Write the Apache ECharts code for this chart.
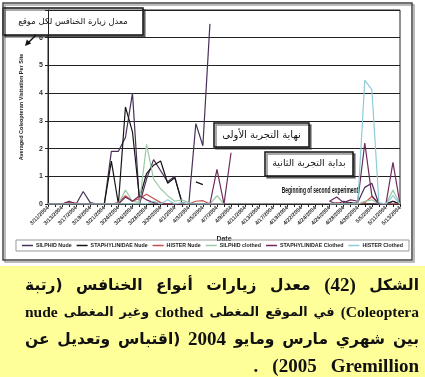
<!DOCTYPE html>
<html>
<head>
<meta charset="utf-8">
<script src="https://cdn.jsdelivr.net/npm/echarts@6/dist/echarts.min.js"></script>
<style>
  html, body { margin: 0; padding: 0; background: #fff; }
  #chart { width: 425px; height: 377px; }
</style>
</head>
<body>
<div id="chart"></div>
<script>
// dates on the category axis (every other one is labelled)
const categories = [
  '3/11/2004', '3/12/2004', '3/13/2004', '3/15/2004', '3/17/2004', '3/18/2004', '3/19/2004', '3/20/2004', '3/21/2004', '3/23/2004',
  '3/24/2004', '3/25/2004', '3/26/2004', '3/27/2004', '3/28/2004', '3/29/2004', '3/30/2004', '3/31/2004', '4/1/2004', '4/2/2004',
  '4/3/2004', '4/4/2004', '4/5/2004', '4/6/2004', '4/7/2004', '4/8/2004', '4/9/2004', '4/10/2004', '4/11/2004', '4/12/2004',
  '4/13/2004', '4/15/2004', '4/17/2004', '4/18/2004', '4/19/2004', '4/21/2004', '4/22/2004', '4/23/2004', '4/24/2004', '4/25/2004',
  '4/26/2004', '4/27/2004', '4/28/2004', '4/29/2004', '4/30/2004', '5/3/2004', '5/5/2004', '5/7/2004', '5/11/2004', '5/12/2004',
  '5/13/2004'
]

const _ = null
const silphidNude = [
  0, 0, 0, 0.05, 0, 0.45, 0.05, 0, 0, 1.9,
  1.9, 2.4, 4.0, 0, 0.9, 1.6, 1.2, 0.8, 1.0, 0.05,
  0, 2.9, 2.1, 6.5, _, _, _, _, _, _,
  _, _, _, _, _, _, _, _, _, _,
  0.1, 0, 0.1, 0, 0.05, 0.6, 0.75, 0, 0, 0.1,
  0
]
const staphNude = [
  0, 0, 0, 0, 0, 0, 0, 0, 0, 1.55,
  0, 3.5, 2.6, 0.2, 1.1, 1.4, 1.55, 0.75, 0.95, 0.1,
  _, 0.8, 0.7, _, _, _, _, _, _, _,
  _, _, _, _, _, _, _, _, _, _,
  0, 0, 0, 0.05, 0, 0, 0, 0, 0, 0.1,
  0
]
const histerNude = [
  0, 0, 0, 0.05, 0.03, 0, 0, 0, 0, 0,
  0.05, 0.3, 0.1, 0.2, 0.35, 0.2, 0.05, 0, 0, 0,
  0, 0.1, 0.12, 0, 0, 0, _, _, _, _,
  _, _, _, _, _, _, _, _, _, _,
  0, 0.05, 0, 0, 0, 0.05, 0.27, 0, 0, 0,
  0
]
const silphidClothed = [
  0, 0, 0, 0, 0, 0, 0, 0, 0, 0,
  0, 0.5, 0.1, 0.05, 2.15, 0.9, 0.55, 0.3, 0.1, 0.15,
  0.05, 0, 0, 0, 0.3, 0, _, _, _, _,
  _, _, _, _, _, _, _, _, _, _,
  0, 0, 0, 0, 0, 0.1, 0.15, 0, 0, 0.5,
  0
]
const staphClothed = [
  0, 0, 0, 0.1, 0, 0, 0, 0, 0, 0,
  0, 0.25, 0.1, 0.3, 0.15, 0.05, 0, 0, 0, 0,
  0, 0, 0, 0, 1.25, 0, 1.85, _, _, _,
  _, _, _, _, _, _, _, _, _, _,
  0.1, 0.25, 0.05, 0.15, 0.1, 2.2, 0.3, 0, 0, 1.5,
  0
]
const histerClothed = [
  0, 0, 0, 0, 0, 0, 0, 0, 0, 0,
  0, 0, 0, 0, 0, 0.1, 0, 0.15, 0, 0.05,
  0, 0, 0, 0, 0, 0, _, _, _, _,
  _, _, _, _, _, _, _, _, _, _,
  0, 0, 0, 0, 0, 4.47, 4.13, 0.05, 0, 0.3,
  0
]

const seriesNames = ['SILPHID Nude', 'STAPHYLINIDAE Nude', 'HISTER Nude', 'SILPHID clothed', 'STAPHYLINIDAE Clothed', 'HISTER Clothed']
const seriesData = [silphidNude, staphNude, histerNude, silphidClothed, staphClothed, histerClothed]
const seriesColors = ['#4a3058', '#151515', '#c0504d', '#9cc9a6', '#6d2a5a', '#8ecbd8']

const yAxisTitle = 'Averaged Coleopteran Visitation Per Site'
const xAxisTitle = 'Date'
const noteAxis = 'معدل زيارة الخنافس لكل موقع'
const noteEnd = 'نهاية التجربة الأولى'
const noteStart = 'بداية التجربة الثانية'
const noteEnglish = 'Beginning of second experiment'

const captionLines = [
  ['الشكل', '(42)', 'معدل', 'زيارات', 'أنواع', 'الخنافس', '(رتبة'],
  ['Coleoptera)', 'في', 'الموقع', 'المغطى', 'clothed', 'وغير', 'المغطى', 'nude'],
  ['بين', 'شهري', 'مارس', 'ومايو', '2004', '(اقتباس', 'وتعديل', 'عن'],
  ['Gremillion', '2005)', '.']
]

const rtl = s => '\u202B' + s + '\u202C'
const axisFont = '"Liberation Sans", Arial, sans-serif'
const measureCtx = document.createElement('canvas').getContext('2d')

function textWidth(text, size, family, weight) {
  measureCtx.font = (weight || 'normal') + ' ' + size + 'px ' + family
  return measureCtx.measureText(text).width
}

function noteBox(x, y, w, h, text, size) {
  return {
    type: 'group', z: 100,
    children: [
      {
        type: 'rect', shape: { x: x, y: y, width: w, height: h },
        style: { fill: '#fff', stroke: '#111', lineWidth: 1.5, shadowColor: 'rgba(0,0,0,0.45)', shadowOffsetX: 2, shadowOffsetY: 2 }
      },
      {
        type: 'text', x: x + w / 2, y: y + h / 2,
        style: { text: rtl(text), align: 'center', verticalAlign: 'middle', fontSize: size, fontFamily: '"DejaVu Sans"', fill: '#111' }
      }
    ]
  }
}

function captionElements() {
  const arFamily = '"DejaVu Sans"'
  const enFamily = '"Liberation Serif", "DejaVu Serif", serif'
  const right = 419, left = 25
  const ys = [286, 313, 340, 367]
  const els = []
  captionLines.forEach((words, li) => {
    const isAr = words.map(w => /[\u0600-\u06FF]/.test(w))
    let scale = 1
    const sizes = () => isAr.map(a => (a ? 15.5 : 19) * scale)
    const widthsOf = () => words.map((w, k) => textWidth(w, sizes()[k], isAr[k] ? arFamily : enFamily, 'bold'))
    let widths = widthsOf()
    let total = widths.reduce((a, b) => a + b, 0)
    const minGap = 6
    if (total + minGap * (words.length - 1) > right - left) {
      scale = (right - left - minGap * (words.length - 1)) / total
      widths = widthsOf()
      total = widths.reduce((a, b) => a + b, 0)
    }
    const last = li === captionLines.length - 1
    const gap = last ? 14 : (right - left - total) / (words.length - 1)
    const sz = sizes()
    let x = right
    words.forEach((w, k) => {
      els.push({
        type: 'text', x: x, y: ys[li], z: 100,
        style: {
          text: rtl(w), align: 'right', verticalAlign: 'middle',
          fontSize: sz[k], fontFamily: isAr[k] ? arFamily : enFamily, fontWeight: 'bold', fill: '#111'
        }
      })
      x -= widths[k] + gap
    })
  })
  return els
}

const chart = echarts.init(document.getElementById('chart'), null, { renderer: 'canvas' })

const option = {
  animation: false,
  backgroundColor: '#fff',
  color: seriesColors,
  grid: { left: 48, right: 25, top: 10, bottom: 173, show: true, borderColor: '#222', borderWidth: 1 },
  legend: {
    data: seriesNames,
    left: 'center', top: 240,
    icon: 'rect', itemWidth: 11, itemHeight: 1.5, itemGap: 5,
    padding: [3, 6],
    borderColor: '#999', borderWidth: 1,
    textStyle: { fontSize: 5.3, fontWeight: 'bold', color: '#222', fontFamily: axisFont, padding: [0, 0, 0, -2] }
  },
  xAxis: {
    type: 'category',
    data: categories,
    boundaryGap: false,
    name: xAxisTitle, nameLocation: 'middle', nameGap: 32,
    nameTextStyle: { fontSize: 7, fontWeight: 'bold', color: '#222', fontFamily: axisFont },
    axisLine: { lineStyle: { color: '#222', width: 1 } },
    axisTick: { show: true, interval: 0, length: 3, lineStyle: { color: '#222' } },
    axisLabel: { interval: 1, rotate: 45, margin: 3, fontSize: 5.5, fontWeight: 'bold', color: '#333', fontFamily: axisFont },
    splitLine: { show: false }
  },
  yAxis: {
    type: 'value',
    min: 0, max: 7, interval: 1,
    name: yAxisTitle, nameLocation: 'middle', nameRotate: 90, nameGap: 24,
    nameTextStyle: { fontSize: 5.5, fontWeight: 'bold', color: '#222', fontFamily: axisFont },
    axisLine: { show: true, lineStyle: { color: '#222', width: 1 } },
    axisTick: { show: true, length: 3, lineStyle: { color: '#222' } },
    axisLabel: { fontSize: 7, fontWeight: 'bold', color: '#333', margin: 5, fontFamily: axisFont, formatter: v => (v === 7 ? '' : String(v)) },
    splitLine: { lineStyle: { color: '#222', width: 1.2 } }
  },
  series: seriesNames.map((name, i) => ({
    name: name,
    type: 'line',
    data: seriesData[i],
    showSymbol: false,
    connectNulls: false,
    lineStyle: { color: seriesColors[i], width: 1.2 }
  })),
  graphic: [
    // chart frame
    {
      type: 'rect', z: 1, silent: true,
      shape: { x: 3, y: 3, width: 409, height: 257 },
      style: { fill: 'none', stroke: '#444', lineWidth: 1.5, shadowColor: 'rgba(0,0,0,0.35)', shadowOffsetX: 2, shadowOffsetY: 2 }
    },
    // caption background
    { type: 'rect', z: 0, shape: { x: 0, y: 266, width: 425, height: 111 }, style: { fill: '#ffff99' } },
    noteBox(3, 8, 140, 27, noteAxis, 8.5),
    {
      type: 'polyline', z: 100,
      shape: { points: [[36, 35], [28, 43]] },
      style: { stroke: '#111', lineWidth: 1.5 }
    },
    {
      type: 'polygon', z: 100,
      shape: { points: [[25, 46], [31.2, 43.6], [26.8, 39.6]] },
      style: { fill: '#111' }
    },
    noteBox(214, 123, 95, 24, noteEnd, 10),
    noteBox(265, 152, 88, 24, noteStart, 9.5),
    {
      type: 'text', x: 320, y: 191, z: 100, scaleX: 0.58,
      style: { text: noteEnglish, align: 'center', verticalAlign: 'middle', fontSize: 8.5, fontWeight: 'bold', fontFamily: axisFont, fill: '#111' }
    }
  ].concat(captionElements())
}

chart.setOption(option)
window.onresize = () => {
  chart.resize()
}
</script>
</body>
</html>
